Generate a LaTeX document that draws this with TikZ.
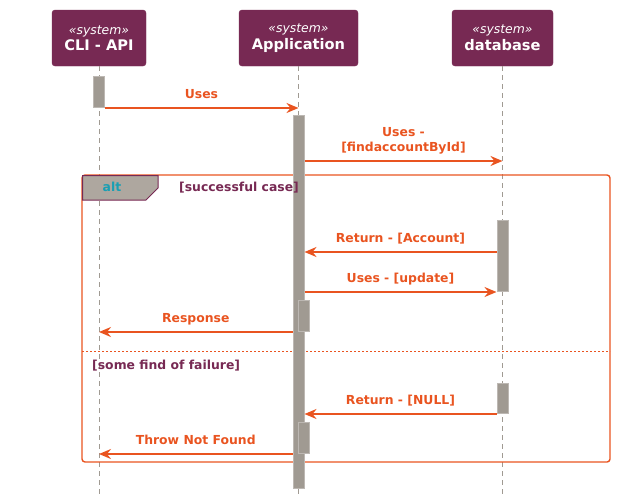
\documentclass[tikz,border=0pt]{standalone}
\usepackage{fontspec}
\setmainfont{DejaVu Sans}
\usepackage{tikz}
\usetikzlibrary{arrows.meta, positioning}
\definecolor{aubergine}{HTML}{772953}
\definecolor{uorange}{HTML}{E95420}
\definecolor{warmgrey}{HTML}{A09A92}
\definecolor{tabgrey}{HTML}{AEA79F}
\definecolor{altteal}{HTML}{1A9FB3}
\tikzset{
>={Stealth[length=12pt, width=10pt, inset=4pt]}, % arrow heads of the messages
part/.style={draw=aubergine, fill=aubergine, rounded corners=3pt, text=white, align=center, minimum height=56, inner sep=0pt}, % participant boxes
life/.style={draw=warmgrey, line width=1pt, dash pattern=on 5pt off 4pt}, % lifelines
act/.style={draw=warmgrey!70!white, line width=1pt, fill=warmgrey, minimum width=11, inner sep=0pt, anchor=north}, % activation bars
msg/.style={->, draw=uorange, line width=2.6pt},
lbl/.style={text=uorange, font=\bfseries\fontsize{12.4}{15}\selectfont, inner sep=0pt, anchor=base, yshift=10pt},
guard/.style={text=aubergine, font=\bfseries\fontsize{12.4}{15}\selectfont},
}
\begin{document}
\begin{tikzpicture}[x=1pt, y=-1pt]
    \useasboundingbox (0,0) rectangle (621,498);
    % participants
    \node[part, minimum width=94] at (99,38) (cli) {{\itshape\fontsize{12.4}{15}\selectfont «system»}\\[2pt]{\bfseries\fontsize{14.6}{17}\selectfont CLI - API}};
    \node[part, minimum width=119] at (298.5,38) (app) {{\itshape\fontsize{12.4}{15}\selectfont «system»}\\[2pt]{\bfseries\fontsize{14.6}{17}\selectfont Application}};
    \node[part, minimum width=101] at (502.5,38) (db) {{\itshape\fontsize{12.4}{15}\selectfont «system»}\\[2pt]{\bfseries\fontsize{14.6}{17}\selectfont database}};
    \coordinate (cliend) at (99,494);
    \coordinate (append) at (298.5,494);
    \coordinate (dbend) at (502.5,494);
    \draw[life] (cli.south) -- (cliend);
    \draw[life] (app.south) -- (append);
    \draw[life] (db.south) -- (dbend);
    % alt frame
    \draw[uorange, line width=1.4pt, rounded corners=3pt] (82,175) rectangle (610,462);
    \draw[draw=aubergine, line width=1pt, fill=tabgrey] (82.7,175.7) -- (158,175.7) -- (158,188) -- (146,200) -- (82.7,200) -- cycle;
    \node[text=altteal, font=\bfseries\fontsize{12.4}{15}\selectfont] at (112,187) (alt) {alt};
    \draw[uorange, line width=0.9pt, dash pattern=on 2pt off 2pt] (82,351) -- (610,351);
    % activation bars
    \node[act, minimum height=31] at (98.5,76) (c1) {};
    \node[act, minimum height=373] at (298.5,115) (a1) {};
    \node[act, minimum height=31] at (303.5,300) (a2) {};
    \node[act, minimum height=31] at (303.5,422) (a3) {};
    \node[act, minimum height=71] at (502.5,220) (d1) {};
    \node[act, minimum height=30] at (502.5,383) (d2) {};
    % guards
    \node[guard] at (239,187.5) (g1) {[successful case]};
    \node[guard, anchor=west, inner sep=0pt] at (92,366) (g2) {[some find of failure]};
    % message levels
    \coordinate (y2) at (0,161);
    \coordinate (y3) at (0,252);
    % messages
    \draw[msg] (c1.south east) -- node[lbl]{Uses} (app.south |- c1.south);
    \draw[msg] (a1.east |- y2) -- node[lbl, align=center]{Uses -\\{}[findaccountById]} (db.south |- y2);
    \draw[msg] (d1.west |- y3) -- node[lbl]{Return - [Account]} (a1.east |- y3);
    \draw[msg] (a1.east |- d1.south) -- node[lbl]{Uses - [update]} (d1.south west);
    \draw[msg] (a1.west |- a2.south) -- node[lbl]{Response} (cli.south |- a2.south);
    \draw[msg] (d2.south west) -- node[lbl]{Return - [NULL]} (a1.east |- d2.south);
    \draw[msg] (a1.west |- a3.south) -- node[lbl]{Throw Not Found} (cli.south |- a3.south);
\end{tikzpicture}
\end{document}
